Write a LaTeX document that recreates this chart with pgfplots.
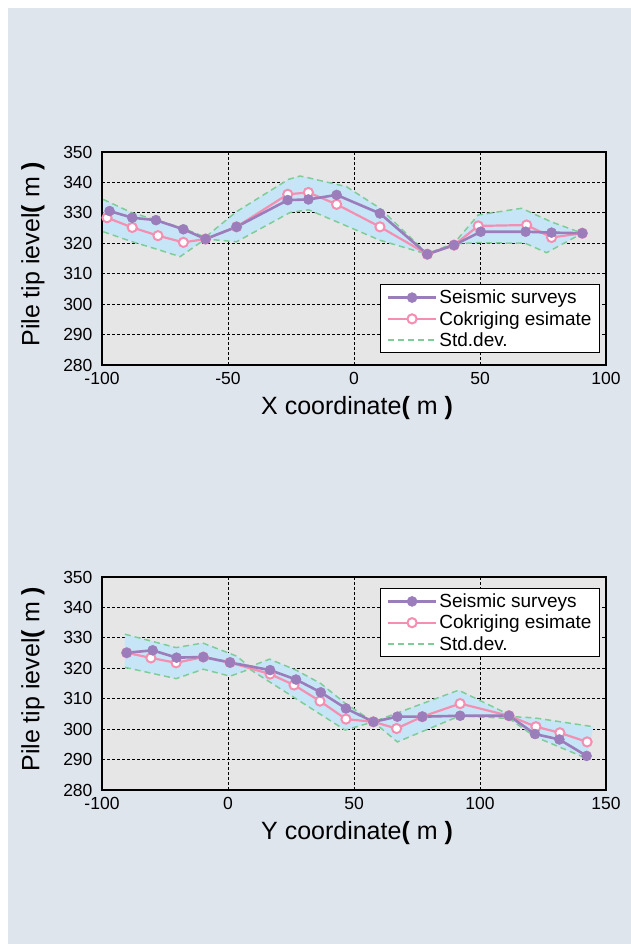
\documentclass[border=0pt]{standalone}
\usepackage{fontspec}
\setmainfont{Liberation Sans}
\usepackage{pgfplots}
\pgfplotsset{compat=1.18}
\definecolor{pagebg}{HTML}{DFE5ED}
\definecolor{plotbg}{HTML}{E6E6E6}
\definecolor{seis}{HTML}{9A7DBA}
\definecolor{cok}{HTML}{F48FB1}
\definecolor{band}{HTML}{C6E6F7}
\definecolor{sdl}{HTML}{7FCC98}
\pgfplotsset{
  myaxis/.style={
    scale only axis, width=504pt, height=213pt,
    axis background/.style={fill=plotbg},
    axis line style={black, line width=1.3pt},
    ymin=280, ymax=350, ytick={280,290,...,350},
    grid=major,
    major grid style={black, line width=0.8pt, dash pattern=on 3pt off 2pt},
    major tick length=0pt,
    /pgf/number format/assume math mode=true,
    ticklabel style={font=\fontsize{17.5}{17.5}\selectfont},
    yticklabel style={xshift=-6pt},
    xticklabel style={yshift=-4pt},
    label style={font=\fontsize{25}{25}\selectfont},
    ylabel style={at={(axis description cs:-0.137,0.52)}, anchor=center},
    xlabel style={at={(axis description cs:0.506,-0.2)}, anchor=center},
    legend cell align=left,
    legend style={font=\fontsize{19}{22}\selectfont, draw=black, line width=1pt, fill=white,
      inner xsep=6pt, inner ysep=3pt, row sep=2pt},
    legend image code/.code={\draw[mark repeat=2,mark phase=2,#1] plot coordinates {(0pt,0pt) (24pt,0pt) (48pt,0pt)};},
  },
  seisst/.style={seis, line width=2.6pt, mark=*, mark size=5pt, mark options={fill=seis, draw=seis, line width=0.5pt}},
  cokst/.style={cok, line width=2.2pt, mark=*, mark size=4.6pt, mark options={fill=white, draw=cok, line width=2pt}},
  sdst/.style={sdl, line width=1.5pt, dash pattern=on 6pt off 4pt},
}
\begin{document}
\begin{tikzpicture}
\fill[white] (0,0) rectangle (631pt,944pt);
\fill[pagebg] (8pt,0) rectangle (631pt,936pt);
% ---------- top axis ----------
\begin{axis}[myaxis, at={(102pt,579pt)}, anchor=south west,
  xmin=-100, xmax=100, xtick={-100,-50,0,50,100},
  xlabel={X coordinate\textbf{(} m \textbf{)}},
  ylabel={Pile tip ievel\textbf{(} m \textbf{)}},
  legend style={at={(0.988,0.055)}, anchor=south east}]
\addlegendimage{seisst}\addlegendentry{Seismic surveys}
\addlegendimage{cokst}\addlegendentry{Cokriging esimate}
\addlegendimage{sdst}\addlegendentry{Std.dev.}
% band (upper boundary, then lower boundary reversed)
\addplot[fill=band, draw=none, forget plot] coordinates {(-99.5,334.4) (-88,330) (-78,327.5) (-68,325) (-59,322) (-46.6,330.4) (-26,341) (-21.4,342.1) (-18,341.5) (-3,338.6) (10.3,331.5) (29.1,316.6) (39.7,320) (49.3,329.3) (66.5,331.5) (78.4,327) (90.6,323.3)
 (76.4,316.9) (68,320) (49.3,320.2) (39.7,319.8) (29.1,316.4) (10.3,321) (1,324.3) (-18,331) (-25.4,330.1) (-46.6,320.5) (-59,321.4) (-69,315.6) (-78,318) (-88,320.5) (-99.5,323.8)} -- cycle;
\addplot[sdst, forget plot] coordinates {(-99.5,334.4) (-88,330) (-78,327.5) (-68,325) (-59,322) (-46.6,330.4) (-26,341) (-21.4,342.1) (-18,341.5) (-3,338.6) (10.3,331.5) (29.1,316.6) (39.7,320) (49.3,329.3) (66.5,331.5) (78.4,327) (90.6,323.3)};
\addplot[sdst, forget plot] coordinates {(-99.5,323.8) (-88,320.5) (-78,318) (-69,315.6) (-59,321.4) (-46.6,320.5) (-25.4,330.1) (-18,331) (1,324.3) (10.3,321) (29.1,316.4) (39.7,319.8) (49.3,320.2) (68,320) (76.4,316.9) (90.6,323.3)};
\addplot[cokst, forget plot] coordinates {(-98,328.4) (-88,325.2) (-77.8,322.5) (-67.7,320.3) (-58.9,321.4) (-46.6,325.4) (-26.3,336.1) (-18.1,336.7) (-6.9,332.8) (10.3,325.4) (29.1,316.4) (39.7,319.4) (49.3,325.7) (68.5,326) (78.4,321.9) (90.6,323.3)};
\addplot[seisst, forget plot] coordinates {(-97,330.6) (-88,328.4) (-78.6,327.6) (-67.7,324.6) (-58.9,321.4) (-46.6,325.4) (-26.3,334.2) (-18.1,334.4) (-6.9,335.9) (10.3,329.8) (29.1,316.4) (39.7,319.4) (50.3,323.8) (68.1,323.8) (78.4,323.5) (90.6,323.3)};
\end{axis}
% ---------- bottom axis ----------
\begin{axis}[myaxis, at={(102pt,154pt)}, anchor=south west,
  xmin=-50, xmax=150, xtick={-50,0,50,100,150}, xticklabels={-100,0,50,100,150},
  xlabel={Y coordinate\textbf{(} m \textbf{)}},
  ylabel={Pile tip ievel\textbf{(} m \textbf{)}},
  legend style={at={(0.988,0.947)}, anchor=north east}]
\addlegendimage{seisst}\addlegendentry{Seismic surveys}
\addlegendimage{cokst}\addlegendentry{Cokriging esimate}
\addlegendimage{sdst}\addlegendentry{Std.dev.}
\addplot[fill=band, draw=none, forget plot] coordinates {(-40.9,331.2) (-20.6,326.8) (-10,328.3) (3.4,324) (8.6,320.5) (16.5,323) (27,319.4) (36.8,315) (46.5,308.5) (57.7,302.4) (91.5,312.8) (113.2,304.1) (121.6,303.7) (145,300.8)
 (142.3,290.4) (121.8,297.5) (111.5,303.5) (92.1,304.4) (67.2,295.8) (57.7,302.4) (46.5,299.7) (36.8,304.8) (27,310) (8.6,319.7) (0.8,317.4) (-9.8,319.7) (-20.6,316.6) (-40.9,320.3)} -- cycle;
\addplot[sdst, forget plot] coordinates {(-40.9,331.2) (-20.6,326.8) (-10,328.3) (3.4,324) (8.6,320.5) (16.5,323) (27,319.4) (36.8,315) (46.5,308.5) (57.7,302.4) (91.5,312.8) (113.2,304.1) (121.6,303.7) (145,300.8)};
\addplot[sdst, forget plot] coordinates {(-40.9,320.3) (-20.6,316.6) (-9.8,319.7) (0.8,317.4) (8.6,319.7) (27,310) (36.8,304.8) (46.5,299.7) (57.7,302.4) (67.2,295.8) (92.1,304.4) (111.5,303.5) (121.8,297.5) (142.3,290.4)};
\addplot[cokst, forget plot] coordinates {(-40.2,325.1) (-30.6,323.4) (-20.6,321.8) (-9.8,323.7) (0.8,321.9) (16.7,318.1) (26.2,314.5) (36.5,309.2) (46.8,303.3) (57.7,302.4) (66.9,300.2) (77.1,304.1) (92.1,308.4) (111.5,304.4) (122.2,300.8) (131.7,298.8) (142.5,295.8)};
\addplot[seisst, forget plot] coordinates {(-40.2,325.1) (-29.9,325.9) (-20.4,323.5) (-9.8,323.7) (0.8,321.9) (16.7,319.4) (27,316.3) (36.8,312.1) (46.8,306.8) (57.7,302.4) (67.2,304.1) (77.1,304.1) (92.1,304.4) (111.5,304.4) (121.8,298.4) (131.5,296.6) (142.3,291.2)};
\end{axis}
\end{tikzpicture}
\end{document}
